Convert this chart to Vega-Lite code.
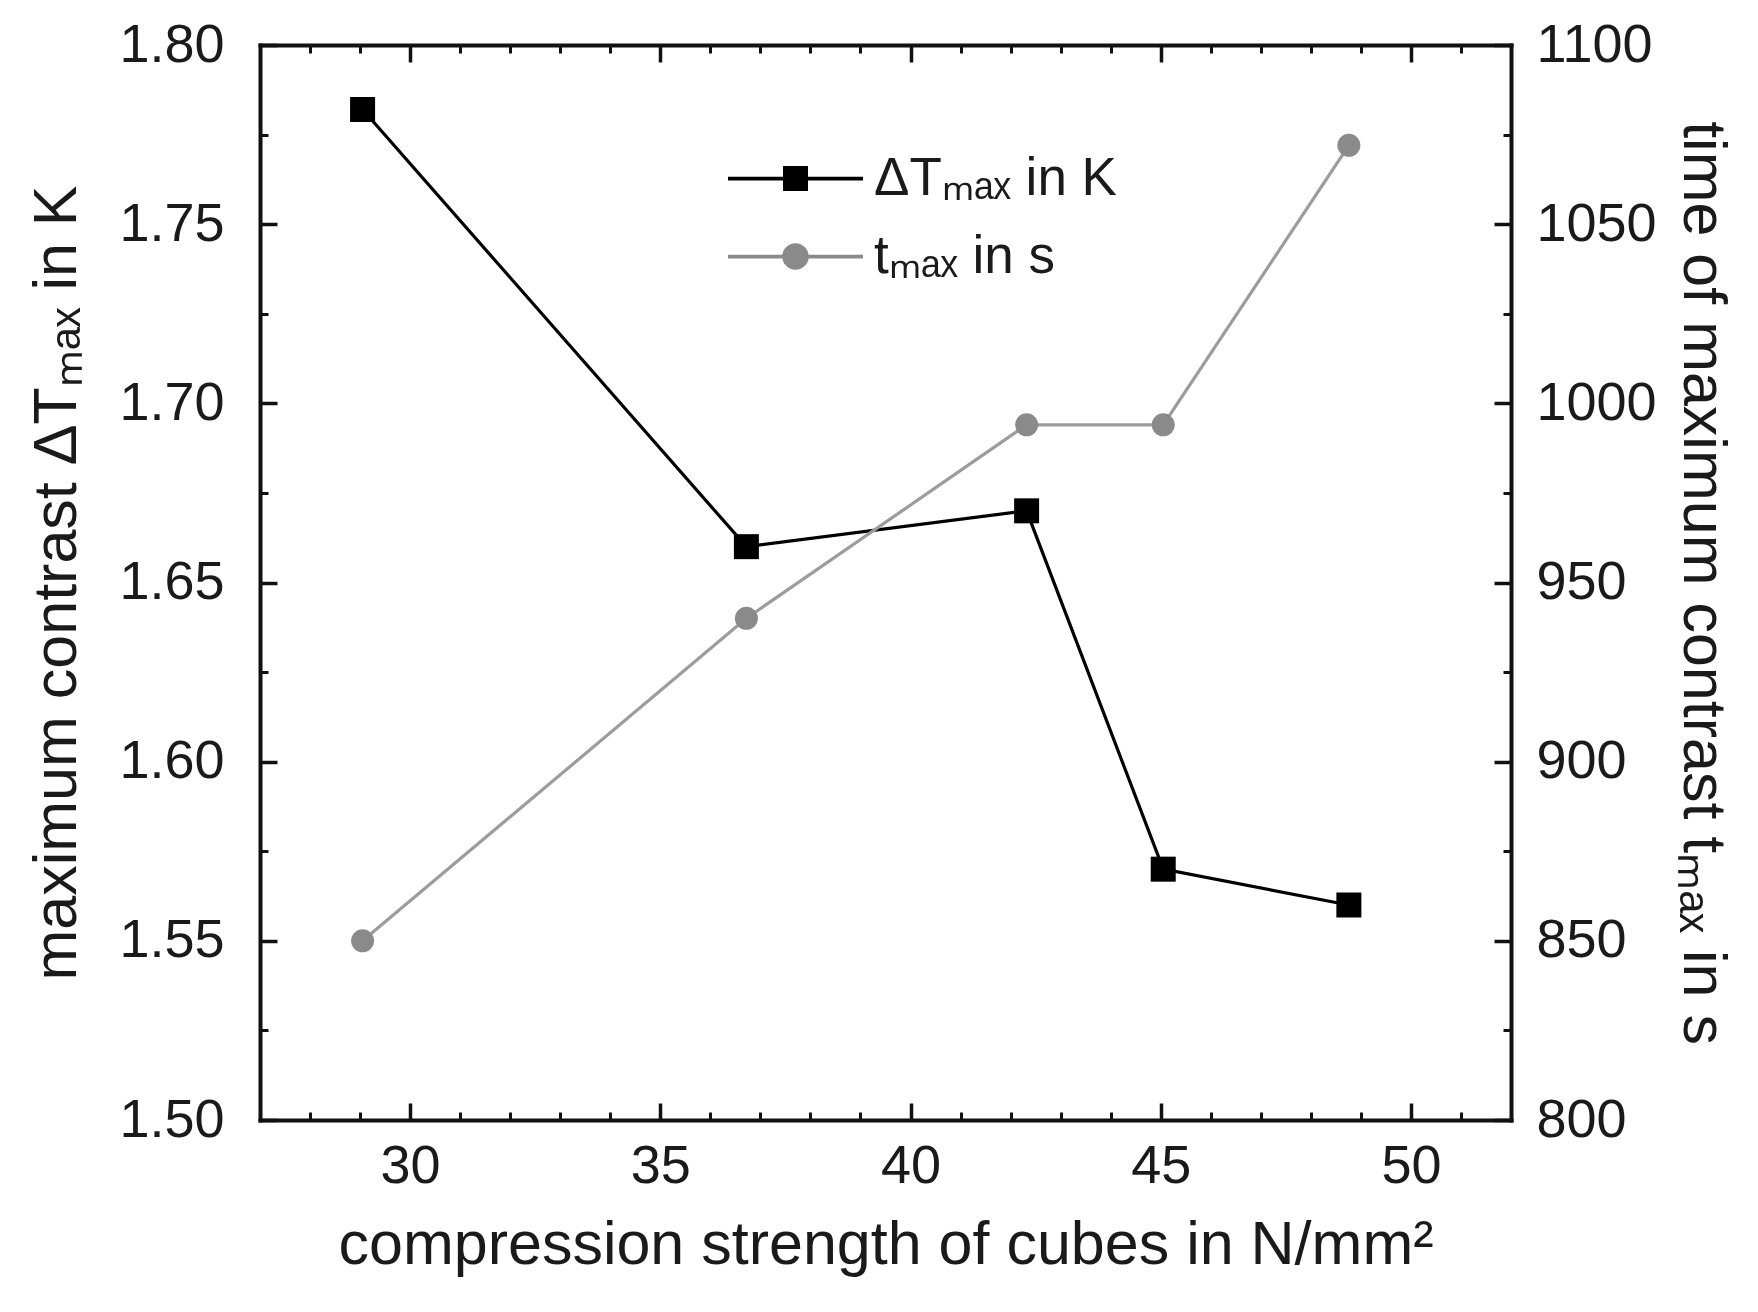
{
  "$schema": "https://vega.github.io/schema/vega-lite/v6.json",
  "autosize": {"type": "none"},
  "width": 1251,
  "height": 1075,
  "padding": {"left": 260, "top": 45, "right": 247, "bottom": 192},
  "background": "white",
  "config": {
    "view": {"stroke": null},
    "font": "Liberation Sans",
    "axis": {
      "grid": false,
      "domainColor": "#111111",
      "domainWidth": 4,
      "domainCap": "square",
      "tickColor": "#111111",
      "labelColor": "#1a1a1a",
      "titleColor": "#1a1a1a",
      "labelFont": "Liberation Sans",
      "titleFont": "Liberation Sans",
      "labelFontSize": 54,
      "titleFontSize": 61,
      "titleFontWeight": "normal",
      "labelFlush": false,
      "labelOverlap": false
    },
    "legend": {
      "orient": "none",
      "legendX": 509,
      "legendY": 107,
      "padding": 0,
      "symbolSize": 625,
      "symbolStrokeWidth": 0,
      "symbolOpacity": 1,
      "labelFont": "Liberation Sans",
      "labelFontSize": 53,
      "labelColor": "#1a1a1a",
      "labelOffset": 52,
      "rowPadding": 24,
      "labelLimit": 600
    }
  },
  "datasets": {
    "cubes": [
      {"strength": 29.05, "deltaT": 1.782, "tmax": 850},
      {"strength": 36.72, "deltaT": 1.660, "tmax": 940},
      {"strength": 42.32, "deltaT": 1.670, "tmax": 994},
      {"strength": 45.05, "deltaT": 1.570, "tmax": 994},
      {"strength": 48.76, "deltaT": 1.560, "tmax": 1072}
    ],
    "keys": [
      {"series": "ΔTₘₐₓ in K"},
      {"series": "tₘₐₓ in s"}
    ]
  },
  "data": {"name": "cubes"},
  "resolve": {
    "scale": {"y": "independent"},
    "axis": {"x": "independent", "y": "independent"}
  },
  "layer": [
    {
      "mark": {"type": "line", "color": "#000000", "strokeWidth": 3.2},
      "encoding": {
        "x": {
          "field": "strength", "type": "quantitative",
          "scale": {"domain": [27, 52], "nice": false, "zero": false},
          "axis": {
            "orient": "bottom", "values": [30, 35, 40, 45, 50],
            "tickSize": -17, "tickWidth": 3.5, "labelPadding": 36,
            "title": "compression strength of cubes in N/mm²", "titlePadding": 22
          }
        },
        "y": {
          "field": "deltaT", "type": "quantitative",
          "scale": {"domain": [1.5, 1.8], "nice": false, "zero": false},
          "axis": {
            "orient": "left", "values": [1.5, 1.55, 1.6, 1.65, 1.7, 1.75, 1.8], "format": ".2f",
            "tickSize": -17, "tickWidth": 3.5, "labelPadding": 53,
            "title": "maximum contrast ΔTₘₐₓ in K", "titlePadding": 30
          }
        }
      }
    },
    {
      "mark": {"type": "point", "shape": "square", "filled": true, "size": 625, "color": "#000000", "opacity": 1},
      "encoding": {
        "x": {
          "field": "strength", "type": "quantitative",
          "scale": {"domain": [27, 52], "nice": false, "zero": false},
          "axis": {
            "orient": "bottom", "values": [28, 29, 31, 32, 33, 34, 36, 37, 38, 39, 41, 42, 43, 44, 46, 47, 48, 49, 51],
            "tickSize": -8, "tickWidth": 3, "labels": false, "domain": false, "title": null
          }
        },
        "y": {
          "field": "deltaT", "type": "quantitative",
          "scale": {"domain": [1.5, 1.8], "nice": false, "zero": false},
          "axis": {
            "orient": "left", "values": [1.525, 1.575, 1.625, 1.675, 1.725, 1.775],
            "tickSize": -8, "tickWidth": 3, "labels": false, "domain": false, "title": null
          }
        }
      }
    },
    {
      "mark": {"type": "line", "color": "#9c9c9c", "strokeWidth": 3.2},
      "encoding": {
        "x": {
          "field": "strength", "type": "quantitative",
          "scale": {"domain": [27, 52], "nice": false, "zero": false},
          "axis": {
            "orient": "top", "values": [30, 35, 40, 45, 50],
            "tickSize": -17, "tickWidth": 3.5, "labels": false, "title": null
          }
        },
        "y": {
          "field": "tmax", "type": "quantitative",
          "scale": {"domain": [800, 1100], "nice": false, "zero": false},
          "axis": {
            "orient": "right", "values": [800, 850, 900, 950, 1000, 1050, 1100], "format": "d",
            "tickSize": -17, "tickWidth": 3.5, "labelPadding": 42,
            "title": "time of maximum contrast tₘₐₓ in s", "titlePadding": 14
          }
        }
      }
    },
    {
      "mark": {"type": "point", "shape": "circle", "filled": true, "size": 530, "color": "#8a8a8a", "opacity": 1},
      "encoding": {
        "x": {
          "field": "strength", "type": "quantitative",
          "scale": {"domain": [27, 52], "nice": false, "zero": false},
          "axis": {
            "orient": "top", "values": [28, 29, 31, 32, 33, 34, 36, 37, 38, 39, 41, 42, 43, 44, 46, 47, 48, 49, 51],
            "tickSize": -8, "tickWidth": 3, "labels": false, "domain": false, "title": null
          }
        },
        "y": {
          "field": "tmax", "type": "quantitative",
          "scale": {"domain": [800, 1100], "nice": false, "zero": false},
          "axis": {
            "orient": "right", "values": [825, 875, 925, 975, 1025, 1075],
            "tickSize": -8, "tickWidth": 3, "labels": false, "domain": false, "title": null
          }
        }
      }
    },
    {
      "data": {"name": "keys"},
      "mark": {"type": "point", "filled": true, "opacity": 0},
      "encoding": {
        "color": {
          "field": "series", "type": "nominal",
          "scale": {"domain": ["ΔTₘₐₓ in K", "tₘₐₓ in s"], "range": ["#000000", "#8a8a8a"]},
          "legend": {"title": null}
        },
        "shape": {
          "field": "series", "type": "nominal",
          "scale": {
            "domain": ["ΔTₘₐₓ in K", "tₘₐₓ in s"],
            "range": [
              "M-5.4,-0.15H5.4V0.15H-5.4Z M-1,-1H1V1H-1Z",
              "M-5.4,-0.15H5.4V0.15H-5.4Z M-1.06,0A1.06,1.06,0,1,1,1.06,0A1.06,1.06,0,1,1,-1.06,0Z"
            ]
          },
          "legend": {"title": null}
        }
      }
    }
  ]
}
